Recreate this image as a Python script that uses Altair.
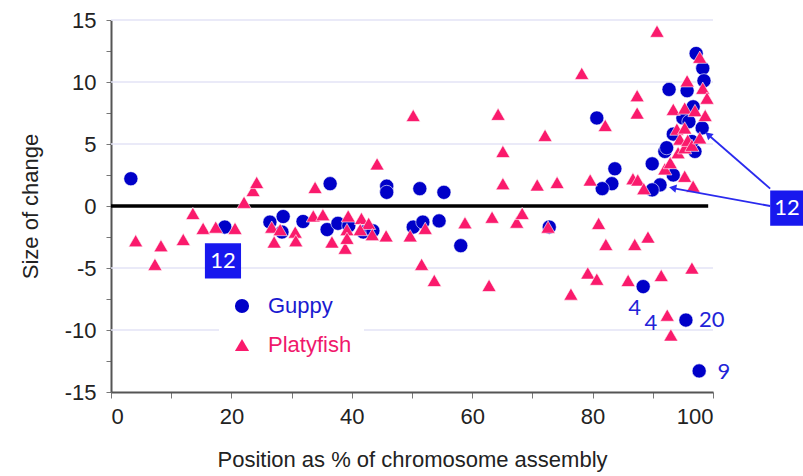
import altair as alt
import pandas as pd

# ---- data ----
guppy_x = [3.3, 18.9, 26.4, 28.6, 28.4, 31.9, 36.4, 35.9, 37.7, 39.5, 41.9, 43.5,
           45.8, 45.8, 51.3, 55.3, 50.2, 51.8, 54.5, 58.1, 72.8,
           80.7, 83.7, 83.2, 81.6, 89.9, 91.2, 89.9, 93.4, 92.0, 92.3, 93.4, 98.2,
           97.0, 97.2, 98.3, 98.5, 92.7, 95.7, 96.7, 95.0, 96.0, 96.5,
           88.4, 95.5, 97.7]
guppy_y = [2.2, -1.7, -1.3, -0.85, -2.1, -1.25, 1.8, -1.9, -1.4, -1.6, -2.1, -2.0,
           1.6, 1.1, 1.4, 1.1, -1.7, -1.3, -1.2, -3.2, -1.7,
           7.1, 3.0, 1.8, 1.4, 3.4, 1.7, 1.3, 2.5, 4.4, 4.7, 5.8, 6.3,
           4.4, 12.3, 11.1, 10.1, 9.4, 9.3, 8.0, 7.1, 6.8, 5.2,
           -6.5, -9.2, -13.3]

platy_x = [4.1, 8.3, 7.3, 12.0, 13.6, 15.3, 17.4, 20.6, 22.1, 23.6, 24.2, 26.7,
           28.1, 27.1, 30.6, 30.7, 33.9, 33.6, 35.2, 36.7, 39.2, 38.9, 39.2, 39.4,
           41.6, 42.8, 41.4, 43.4, 44.2, 45.7, 49.7, 52.2, 50.2, 51.6, 53.7, 58.8,
           62.8, 63.3, 64.3, 65.1, 65.1, 67.4, 68.3, 70.8, 72.1, 72.6, 74.1, 76.4,
           78.2, 79.2, 79.6, 80.7, 81.0, 82.1, 82.2, 85.9, 86.7, 87.0, 87.4, 87.4,
           87.5, 88.5, 89.2, 90.7, 91.4, 92.0, 92.4, 92.9, 93.0, 93.4, 94.0, 94.2,
           94.5, 95.3, 95.3, 95.3, 95.3, 95.7, 95.8, 96.5, 96.5, 96.7, 97.0, 97.8,
           97.8, 98.3, 98.7, 99.0]
platy_y = [-2.8, -3.2, -4.7, -2.7, -0.6, -1.8, -1.7, -1.8, 0.3, 1.25, 1.9, -1.7,
           -1.9, -2.9, -2.1, -2.8, 1.5, -0.8, -0.7, -2.9, -1.9, -3.4, -2.6, -0.8,
           -1.0, -1.4, -1.9, -2.3, 3.4, -2.4, -2.4, -1.8, 7.3, -4.7, -6.0, -1.35,
           -6.4, -0.9, 7.4, 4.4, 1.8, -1.3, -0.6, 1.7, 5.7, -1.7, 1.9, -7.1,
           10.7, -5.4, 2.1, -5.9, -1.4, 6.5, -3.1, -6.0, 2.2, -3.1, 8.9, 7.5,
           2.1, 1.4, -2.5, 14.1, -5.6, 3.0, -8.8, 3.5, -10.4, 7.8, 6.2, 4.3,
           5.4, 7.9, 6.3, 4.7, 2.4, 10.1, 5.3, 4.9, -5.0, 1.6, 7.7, 12.0,
           5.5, 9.5, 7.3, 8.7]

species = ["Guppy", "Platyfish"]
colors = ["#0000c8", "#fa1a6c"]
shapes = ["circle", "triangle-up"]

grid_y = [15, 10, 5, -5, -10]
zero_x, zero_x2, zero_y = [0], [99.2], [0]

box_x = [15.6, 109.5]
box_x2 = [21.6, 115.5]
box_y = [-3.0, 1.25]
box_y2 = [-5.85, -1.6]
box_tx = [18.6, 112.3]
box_ty = [-4.45, -0.2]
box_text = ["12", "12"]

arrow_x = [109.5, 109.5]
arrow_y = [1.4, 0.0]
arrow_x2 = [99.2, 93.3]
arrow_y2 = [5.75, 1.45]
arrow_angle = [311, 281]

label_text = ["4", "4", "20", "9"]
label_x = [87.0, 89.7, 99.8, 101.8]
label_y = [-8.2, -9.4, -9.2, -13.4]

x_ticks = list(range(0, 101, 10))
y_ticks = [v / 2 for v in range(-30, 31, 5)]

# ---- tables ----
pts = pd.DataFrame({
    "x": guppy_x + platy_x,
    "y": guppy_y + platy_y,
    "species": ["Guppy"] * len(guppy_x) + ["Platyfish"] * len(platy_x),
})
grid_df = pd.DataFrame({"y": grid_y})
zero_df = pd.DataFrame({"x": zero_x, "x2": zero_x2, "y": zero_y})
box_df = pd.DataFrame({"x": box_x, "x2": box_x2, "y": box_y, "y2": box_y2,
                       "tx": box_tx, "ty": box_ty, "t": box_text})
arrow_df = pd.DataFrame({"x": arrow_x, "y": arrow_y, "x2": arrow_x2,
                         "y2": arrow_y2, "a": arrow_angle})
lab_df = pd.DataFrame({"x": label_x, "y": label_y, "t": label_text})

FONT = "Liberation Sans"

xscale = alt.Scale(domain=[0, 100], nice=False)
yscale = alt.Scale(domain=[-15, 15], nice=False)
xaxis = alt.Axis(values=x_ticks, labelExpr="datum.value % 20 == 0 ? datum.label : ''",
                 grid=False, domainColor="#555555", domainWidth=2, tickColor="#777777",
                 tickSize=6, tickWidth=1, labelFontSize=22, labelFont=FONT, labelColor="#222222",
                 labelPadding=8, title="Position as % of chromosome assembly",
                 titleFontSize=22, titleFont=FONT, titleFontWeight="normal",
                 titleColor="#222222", titlePadding=22)
yaxis = alt.Axis(values=y_ticks,
                 labelExpr="datum.value % 5 == 0 ? replace(datum.label, '\u2212', '-') : ''",
                 grid=False, domainColor="#555555", domainWidth=2, tickColor="#777777",
                 tickSize=5, tickWidth=1, labelFontSize=22, labelFont=FONT, labelColor="#222222",
                 labelPadding=10, title="Size of change", titleFontSize=22, titleFont=FONT,
                 titleFontWeight="normal", titleColor="#222222", titlePadding=22)


def X(f="x"):
    return alt.X(f + ":Q", scale=xscale, axis=xaxis)


def Y(f="y"):
    return alt.Y(f + ":Q", scale=yscale, axis=yaxis)


grid = alt.Chart(grid_df).mark_rule(color="#e3e3f6", strokeWidth=1.5).encode(y=Y())
zero = alt.Chart(zero_df).mark_rule(color="black", strokeWidth=3.5).encode(
    x=X(), x2="x2:Q", y=Y())

legend = alt.Legend(
    title=None, orient="none", legendX=108, legendY=263, fillColor="white",
    padding=12, labelFontSize=22, labelFont=FONT, symbolSize=200,
    symbolStrokeWidth=0, labelOffset=15, rowPadding=17,
    labelColor={"expr": "datum.label == 'Guppy' ? '#1a1ad0' : '#f0186c'"},
)

points = alt.Chart(pts).mark_point(filled=True, size=200, opacity=1,
                                   stroke="white", strokeWidth=0.6).encode(
    x=X(), y=Y(),
    color=alt.Color("species:N", scale=alt.Scale(domain=species, range=colors), legend=legend),
    shape=alt.Shape("species:N", scale=alt.Scale(domain=species, range=shapes), legend=legend),
    order=alt.Order("species:N", sort="ascending"),
)

boxes = alt.Chart(box_df).mark_rect(color="#1818ee").encode(
    x=X(), x2="x2:Q", y=Y(), y2="y2:Q")
box_txt = alt.Chart(box_df).mark_text(color="white", fontSize=22, font="Lato").encode(
    x=X("tx"), y=Y("ty"), text="t:N")

arrows = alt.Chart(arrow_df).mark_rule(color="#2a2aee", strokeWidth=1.8).encode(
    x=X(), y=Y(), x2="x2:Q", y2="y2:Q")
heads = alt.Chart(arrow_df).mark_point(shape="triangle-up", filled=True, size=70,
                                       color="#2a2aee", opacity=1).encode(
    x=X("x2"), y=Y("y2"), angle=alt.Angle("a:Q", scale=None))

labels = alt.Chart(lab_df).mark_text(color="#2323d8", fontSize=22, font="Lato").encode(
    x=X(), y=Y(), text="t:N")

chart = alt.layer(grid, zero, points, arrows, heads, boxes, box_txt, labels).properties(
    width=602, height=372,
    autosize=alt.AutoSizeParams(type="none"),
    padding={"left": 111, "top": 20, "right": 90, "bottom": 84},
).configure_view(strokeWidth=0)

chart.save("out.html", embed_options={"renderer": "svg", "actions": False})
